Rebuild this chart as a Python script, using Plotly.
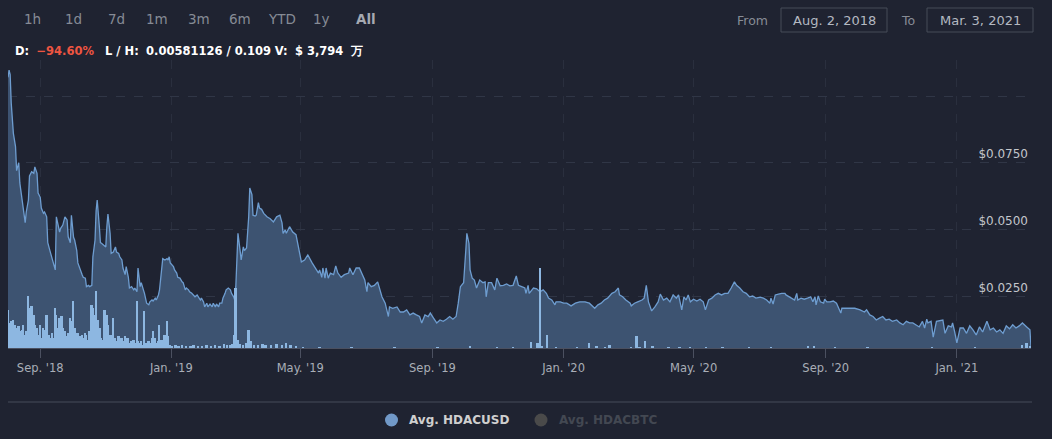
import pandas as pd
import plotly.graph_objects as go

# ---------------- data ----------------
START = "2018-08-02"

price_day = [0, 1, 2, 3, 5, 7, 8, 10, 11, 13, 14, 16, 17, 19, 20, 22, 24, 25, 27, 28, 30, 31, 33, 34, 36, 37, 39, 41, 42, 44,
             45, 46, 48, 49, 51, 53, 55, 56, 58, 59, 61, 62, 64, 65, 67, 69, 70, 72, 73, 75, 76, 78, 79, 81, 82, 83, 85, 86, 87, 89,
             91, 92, 93, 95, 96, 98, 100, 101, 103, 104, 106, 107, 109, 110, 112, 113, 115, 117, 118, 120, 121, 123, 124, 126, 127, 129, 131, 132, 134, 135,
             137, 138, 140, 141, 143, 144, 146, 148, 149, 150, 151, 154, 155, 157, 158, 160, 162, 163, 165, 166, 168, 169, 171, 172, 174, 176, 177, 179, 180, 182,
             183, 185, 186, 188, 190, 191, 193, 194, 196, 197, 199, 200, 202, 203, 205, 207, 208, 210, 211, 212, 213, 214, 216, 217, 219, 220, 222, 224, 225, 227,
             228, 230, 231, 233, 234, 236, 238, 241, 244, 247, 250, 253, 255, 256, 258, 259, 262, 265, 268, 270, 272, 273, 276, 279, 283, 286, 289, 290, 292, 293,
             295, 296, 298, 300, 303, 305, 307, 310, 313, 317, 318, 321, 324, 327, 329, 332, 334, 335, 338, 341, 344, 346, 348, 351, 352, 354, 355, 358, 362, 365,
             368, 371, 374, 377, 380, 383, 385, 388, 391, 393, 396, 399, 402, 405, 408, 411, 414, 417, 419, 421, 422, 424, 426, 427, 429, 430, 432, 434, 436, 437,
             439, 442, 444, 445, 447, 450, 453, 455, 458, 461, 464, 467, 470, 473, 475, 478, 481, 482, 484, 485, 489, 492, 495, 498, 501, 503, 506, 509, 510, 514,
             517, 520, 524, 528, 532, 537, 541, 546, 549, 552, 555, 558, 562, 565, 568, 569, 572, 575, 579, 580, 583, 586, 590, 592, 594, 596, 599, 602, 605, 607,
             610, 613, 616, 619, 622, 624, 627, 629, 631, 633, 635, 638, 641, 644, 647, 649, 652, 655, 658, 661, 664, 667, 670, 673, 676, 678, 681, 684, 687, 690,
             693, 696, 700, 703, 706, 709, 710, 712, 714, 717, 720, 723, 724, 729, 732, 734, 735, 738, 741, 744, 747, 749, 751, 752, 754, 756, 759, 760, 762, 765,
             768, 771, 775, 776, 779, 783, 788, 793, 797, 799, 802, 805, 808, 811, 814, 817, 820, 823, 827, 830, 833, 836, 839, 842, 845, 848, 851, 853, 855, 856,
             859, 861, 864, 867, 870, 872, 875, 878, 879, 881, 883, 886, 889, 892, 895, 898, 901, 904, 907, 911, 914, 917, 920, 923, 926, 929, 932, 935, 938, 941,
             944, 948, 951, 952]

price_usd = [0.107, 0.1097, 0.108, 0.0974, 0.086, 0.081, 0.072, 0.075, 0.0674, 0.061, 0.058, 0.0525, 0.0565, 0.061, 0.070, 0.0716, 0.071, 0.0734, 0.071, 0.0636, 0.062, 0.058, 0.056, 0.0565, 0.0547, 0.045, 0.042, 0.039, 0.0374, 0.0348,
             0.0547, 0.0524, 0.049, 0.0504, 0.0516, 0.0547, 0.0535, 0.0472, 0.045, 0.0553, 0.047, 0.046, 0.042, 0.0374, 0.0348, 0.033, 0.032, 0.0317, 0.0285, 0.029, 0.0285, 0.029, 0.0397, 0.046, 0.057, 0.061, 0.051, 0.045, 0.0448, 0.044,
             0.0434, 0.051, 0.0557, 0.0485, 0.041, 0.0415, 0.0434, 0.0415, 0.041, 0.0397, 0.0385, 0.0355, 0.033, 0.036, 0.032, 0.028, 0.0285, 0.0273, 0.028, 0.0266, 0.0355, 0.0285, 0.030, 0.0273, 0.026, 0.0223, 0.0217, 0.0228, 0.0235, 0.0231,
             0.0242, 0.0235, 0.0254, 0.0273, 0.0336, 0.039, 0.0385, 0.039, 0.0385, 0.0397, 0.0374, 0.036, 0.0348, 0.0336, 0.032, 0.0317, 0.0303, 0.030, 0.0273, 0.028, 0.0273, 0.0266, 0.026, 0.0254, 0.0247, 0.0254, 0.0246, 0.0235, 0.0242, 0.0228,
             0.0209, 0.0223, 0.0209, 0.022, 0.0209, 0.0223, 0.0209, 0.022, 0.0209, 0.0223, 0.0223, 0.0242, 0.026, 0.0273, 0.028, 0.0273, 0.026, 0.0247, 0.0235, 0.0285, 0.0385, 0.0485, 0.042, 0.0385, 0.0434, 0.042, 0.043, 0.0547, 0.0655, 0.063,
             0.0553, 0.055, 0.0553, 0.060, 0.058, 0.0575, 0.056, 0.0547, 0.054, 0.0528, 0.0547, 0.0553, 0.0524, 0.0485, 0.0498, 0.0485, 0.051, 0.049, 0.048, 0.0434, 0.0385, 0.0378, 0.0385, 0.0404, 0.0374, 0.0355, 0.0336, 0.0348, 0.032, 0.0355,
             0.0317, 0.0355, 0.0317, 0.0336, 0.033, 0.0363, 0.0336, 0.032, 0.033, 0.0336, 0.0355, 0.033, 0.0355, 0.0355, 0.0336, 0.031, 0.0266, 0.030, 0.0285, 0.029, 0.0303, 0.0273, 0.0247, 0.0223, 0.0204, 0.0173, 0.0209, 0.0204, 0.0209, 0.019,
             0.019, 0.0198, 0.0179, 0.0186, 0.0179, 0.0173, 0.0149, 0.0179, 0.0173, 0.0186, 0.0167, 0.0149, 0.016, 0.0155, 0.0163, 0.0173, 0.0163, 0.0173, 0.0223, 0.0285, 0.029, 0.030, 0.042, 0.0485, 0.0447, 0.0348, 0.0317, 0.031, 0.028, 0.029,
             0.031, 0.030, 0.0303, 0.0247, 0.030, 0.030, 0.0273, 0.0317, 0.0288, 0.029, 0.0295, 0.0288, 0.029, 0.0325, 0.029, 0.0285, 0.028, 0.026, 0.029, 0.026, 0.028, 0.0277, 0.0266, 0.0273, 0.026, 0.0242, 0.0235, 0.0217, 0.0228, 0.0228,
             0.0223, 0.0223, 0.0213, 0.0223, 0.0228, 0.0228, 0.0223, 0.0204, 0.0217, 0.0223, 0.0235, 0.0242, 0.026, 0.0266, 0.028, 0.0254, 0.0247, 0.0235, 0.0223, 0.0213, 0.0223, 0.0228, 0.0235, 0.0242, 0.029, 0.0228, 0.0194, 0.0209, 0.0228, 0.0257,
             0.0235, 0.0242, 0.0228, 0.0254, 0.0242, 0.0254, 0.0198, 0.0247, 0.0235, 0.0254, 0.0228, 0.0238, 0.0231, 0.0238, 0.0228, 0.0198, 0.0235, 0.0242, 0.0254, 0.026, 0.0254, 0.026, 0.026, 0.028, 0.0303, 0.029, 0.028, 0.0266, 0.026, 0.0247,
             0.025, 0.0242, 0.0246, 0.0242, 0.0235, 0.0223, 0.0242, 0.022, 0.0254, 0.0257, 0.026, 0.026, 0.0254, 0.0242, 0.0235, 0.026, 0.0235, 0.0242, 0.0238, 0.0242, 0.0247, 0.0228, 0.0247, 0.0217, 0.025, 0.0228, 0.0223, 0.0238, 0.0228, 0.0228,
             0.0231, 0.0223, 0.0186, 0.0204, 0.0204, 0.0204, 0.0204, 0.0198, 0.019, 0.0198, 0.0179, 0.0173, 0.016, 0.0167, 0.0173, 0.016, 0.0163, 0.0155, 0.016, 0.0149, 0.0142, 0.0155, 0.0149, 0.0149, 0.0142, 0.0134, 0.0155, 0.013, 0.0163, 0.0149,
             0.0155, 0.0096, 0.0155, 0.0157, 0.016, 0.011, 0.0138, 0.0134, 0.0149, 0.0115, 0.0074, 0.013, 0.013, 0.011, 0.0138, 0.0123, 0.0104, 0.0134, 0.0115, 0.0155, 0.0123, 0.013, 0.0115, 0.0123, 0.011, 0.0138, 0.0127, 0.0142, 0.013, 0.0138,
             0.0149, 0.0134, 0.0123, 0.0058]

volume_day = [0, 2, 3, 5, 7, 8, 10, 11, 13, 14, 16, 17, 19, 20, 22, 24, 25, 27, 28, 30, 31, 33, 34, 36, 38, 39, 41, 42, 44, 45,
              47, 48, 50, 51, 53, 55, 56, 58, 59, 61, 62, 64, 65, 67, 69, 70, 72, 73, 75, 76, 78, 79, 81, 82, 84, 86, 87, 89, 90, 92,
              93, 95, 96, 98, 100, 101, 103, 104, 106, 107, 109, 110, 112, 113, 115, 117, 118, 120, 121, 123, 124, 126, 127, 129, 131, 132, 134, 135, 137, 138,
              140, 141, 143, 144, 146, 148, 149, 151, 153, 156, 159, 162, 166, 170, 173, 177, 181, 185, 189, 193, 197, 201, 204, 207, 209, 211, 212, 214, 216, 219,
              222, 224, 226, 229, 233, 237, 240, 245, 250, 255, 259, 263, 268, 275, 290, 320, 360, 400, 430, 455, 470, 487, 493, 495, 497, 502, 510, 530, 541, 548,
              556, 560, 580, 585, 588, 593, 600, 615, 625, 635, 650, 665, 690, 710, 745, 750, 770, 800, 860, 900, 944, 948, 951]

volume_usd = [380, 250, 270, 280, 230, 200, 220, 170, 180, 230, 130, 170, 520, 400, 420, 330, 230, 200, 130, 230, 100, 200, 180, 330, 130, 100, 150, 100, 400, 330,
              200, 300, 320, 200, 170, 120, 150, 300, 270, 470, 200, 130, 150, 120, 130, 100, 150, 130, 80, 170, 430, 400, 330, 570, 280, 200, 100, 80, 380, 330,
              230, 130, 130, 300, 100, 70, 120, 80, 100, 70, 120, 100, 100, 50, 70, 80, 50, 470, 70, 50, 70, 30, 370, 50, 70, 50, 100, 170, 100, 50,
              70, 230, 80, 50, 130, 270, 120, 30, 20, 30, 20, 30, 20, 20, 30, 20, 20, 30, 20, 30, 20, 40, 30, 30, 40, 130, 600, 80, 40, 30,
              50, 180, 70, 30, 30, 40, 30, 30, 40, 30, 50, 30, 20, 10, 10, 10, 10, 10, 20, 10, 10, 60, 50, 800, 20, 130, 10, 10, 50, 20,
              10, 30, 10, 120, 10, 70, 20, 10, 10, 10, 10, 10, 10, 10, 20, 20, 10, 10, 10, 10, 30, 50, 20]

x_tick_dates = ["2018-09-01", "2019-01-01", "2019-05-01", "2019-09-01",
                "2020-01-01", "2020-05-01", "2020-09-01", "2021-01-01"]
x_tick_labels = ["Sep. '18", "Jan. '19", "May. '19", "Sep. '19",
                 "Jan. '20", "May. '20", "Sep. '20", "Jan. '21"]
y_tick_values = [0.025, 0.05, 0.075, 0.1]
y_tick_labels = ["$0.0250", "$0.0500", "$0.0750", ""]

range_buttons = ["1h", "1d", "7d", "1m", "3m", "6m", "YTD", "1y", "All"]
legend_names = ["Avg. HDACUSD", "Avg. HDACBTC"]

# ---------------- styling ----------------
BG = "#1f2331"
LINE = "#6e9dd0"
FILL = "#3d5371"
BAR = "#8db7e1"
GRID = "#303646"
XGRID = "#2a2f3e"
FONT = "DejaVu Sans"

start = pd.Timestamp(START)
price_dates = start + pd.to_timedelta(price_day, unit="D")
volume_dates = start + pd.to_timedelta(volume_day, unit="D")
end = start + pd.Timedelta(days=max(price_day))

W, H = 1052, 439
L_PX, R_PX, T_PX, B_PX = 8, 1031, 60, 348


def px_x(x):
    return (x - L_PX) / (R_PX - L_PX)


def px_y(y):
    return (B_PX - y) / (B_PX - T_PX)


fig = go.Figure()
fig.add_trace(go.Scatter(
    x=price_dates, y=price_usd, mode="lines", name=legend_names[0],
    line=dict(color=LINE, width=1.3), fill="tozeroy", fillcolor=FILL,
    showlegend=False, hoverinfo="skip"))
fig.add_trace(go.Bar(
    x=volume_dates, y=volume_usd, yaxis="y2", marker=dict(color=BAR, line=dict(width=0)),
    width=1.7 * 86400000, showlegend=False, hoverinfo="skip"))

fig.update_layout(
    width=W, height=H,
    margin=dict(l=L_PX, r=W - R_PX, t=T_PX, b=H - B_PX),
    paper_bgcolor=BG, plot_bgcolor=BG,
    font=dict(family=FONT, color="#a9aeb7"),
    bargap=0,
    xaxis=dict(
        type="date", range=[start, end],
        tickvals=x_tick_dates, ticktext=x_tick_labels,
        ticks="outside", ticklen=9, tickcolor="#4b5060", tickwidth=1,
        showline=True, linecolor="#4b5060", linewidth=1,
        showgrid=True, gridcolor=XGRID, griddash="dash", gridwidth=1,
        tickfont=dict(size=11.5, color="#a9aeb7", family=FONT),
        zeroline=False, fixedrange=True),
    yaxis=dict(
        range=[0.0055, 0.1135], side="right",
        tickvals=y_tick_values, ticktext=y_tick_labels,
        ticklabelposition="inside top", ticks="",
        showgrid=True, gridcolor=GRID, griddash="dash", gridwidth=1,
        tickfont=dict(size=12, color="#c3c6cc", family=FONT),
        showline=False, zeroline=False, fixedrange=True),
    yaxis2=dict(overlaying="y", range=[0, 2880], visible=False, fixedrange=True),
)

ann = []
shapes = []

# range selector buttons
btn_x = [32.5, 73.5, 116, 157, 199, 240, 282, 321, 366]
for lbl, bx in zip(range_buttons, btn_x):
    bold = lbl == "All"
    ann.append(dict(x=px_x(bx), y=px_y(19), xref="paper", yref="paper", showarrow=False,
                    text=f"<b>{lbl}</b>" if bold else lbl, xanchor="center", yanchor="middle",
                    font=dict(size=13.5, color="#a5a9b1" if bold else "#868b95", family=FONT)))

# date range inputs
ann.append(dict(x=px_x(752), y=px_y(20), xref="paper", yref="paper", showarrow=False, text="From",
                xanchor="center", yanchor="middle", font=dict(size=12.5, color="#878c96", family=FONT)))
ann.append(dict(x=px_x(908), y=px_y(20), xref="paper", yref="paper", showarrow=False, text="To",
                xanchor="center", yanchor="middle", font=dict(size=12.5, color="#878c96", family=FONT)))
for (x0, x1, txt) in [(781, 887, "Aug. 2, 2018"), (927, 1033, "Mar. 3, 2021")]:
    shapes.append(dict(type="rect", xref="paper", yref="paper", x0=px_x(x0), x1=px_x(x1),
                       y0=px_y(32), y1=px_y(8), line=dict(color="#474c58", width=1), fillcolor=BG, layer="below"))
    ann.append(dict(x=px_x((x0 + x1) / 2), y=px_y(20), xref="paper", yref="paper", showarrow=False, text=txt,
                    xanchor="center", yanchor="middle", font=dict(size=13, color="#b4b9c1", family=FONT)))

# info line
info = ("<b>D:</b>  <span style='color:#ee5541'><b>−94.60%</b></span>   "
        "<b>L / H:</b>  <b>0.00581126 / 0.109</b> <b>V:</b>  <b>$ 3,794</b>  <b>万</b>")
ann.append(dict(x=px_x(13), y=px_y(51), xref="paper", yref="paper", showarrow=False, text=info,
                xanchor="left", yanchor="middle", font=dict(size=11.5, color="#ffffff", family=FONT)))

# separator above legend
shapes.append(dict(type="line", xref="paper", yref="paper", x0=px_x(8), x1=px_x(1032),
                   y0=px_y(402), y1=px_y(402), line=dict(color="#3a3f4c", width=1.5)))

# legend
leg = [(391.5, 407, legend_names[0], "#7199c8", "#cfcfcf"),
       (541, 557, legend_names[1], "#4a4a4a", "#434852")]
for cx, tx, name, dot, col in leg:
    shapes.append(dict(type="circle", xref="paper", yref="paper", xsizemode="pixel", ysizemode="pixel",
                       xanchor=px_x(cx), yanchor=px_y(420), x0=-6.5, x1=6.5, y0=-6.5, y1=6.5,
                       fillcolor=dot, line=dict(width=0)))
    ann.append(dict(x=px_x(tx), y=px_y(420), xref="paper", yref="paper", showarrow=False,
                    text=f"<b>{name}</b>", xanchor="left", yanchor="middle",
                    font=dict(size=12, color=col, family=FONT)))

fig.update_layout(annotations=ann, shapes=shapes)
fig.write_html("out.html", config={"displayModeBar": False})
